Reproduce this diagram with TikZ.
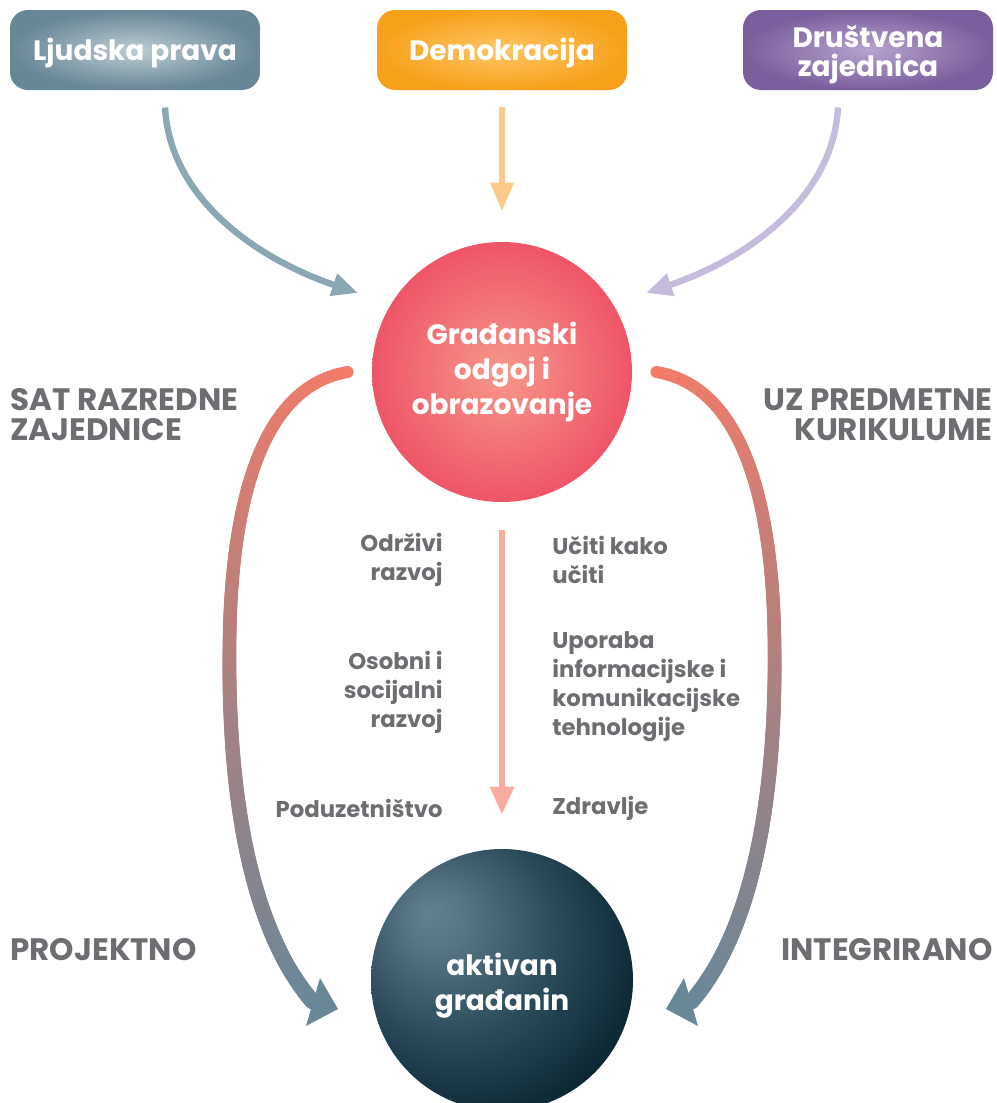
\documentclass[tikz,border=0pt]{standalone}
\usepackage{fontspec}
\setmainfont{Poppins}
\usetikzlibrary{arrows.meta,decorations.markings}

\definecolor{txtgrey}{HTML}{6D6E71}
\definecolor{lpin}{HTML}{BDCCD3}
\definecolor{lpout}{HTML}{678696}
\definecolor{dkin}{HTML}{FEC664}
\definecolor{dkout}{HTML}{F7A11B}
\definecolor{dzin}{HTML}{B7A3CE}
\definecolor{dzout}{HTML}{7A5E9D}
\definecolor{goin}{HTML}{F6988A}
\definecolor{goout}{HTML}{EF5568}
\definecolor{lparr}{HTML}{8CA7B4}
\definecolor{dkarr}{HTML}{FDC98A}
\definecolor{dzarr}{HTML}{C5BBDC}
\definecolor{midarr}{HTML}{F9AB9F}
\definecolor{arctop}{HTML}{F47B67}
\definecolor{arcbot}{HTML}{6A8798}
\definecolor{aghi}{HTML}{62808F}
\definecolor{agup}{HTML}{567483}
\definecolor{agmid}{HTML}{2A4A5A}
\definecolor{aglow}{HTML}{0E2A37}
\definecolor{agdark}{HTML}{00101A}

\pgfdeclareradialshading{agball}{\pgfpoint{-14bp}{13bp}}{%
  color(0bp)=(aghi); color(6bp)=(agup); color(20bp)=(agmid);
  color(32bp)=(aglow); color(45bp)=(agdark); color(60bp)=(agdark)}

% one dot of the shaded side arcs
\newcommand\arcdot{%
  \pgfmathsetmacro\arcpos{\pgfkeysvalueof{/pgf/decoration/mark info/distance from start}/\pgfdecoratedpathlength}%
  \pgfmathsetmacro\arcmix{100*\arcpos}%
  \pgfmathsetmacro\arcrad{3+\arcpos}%
  \colorlet{arcnow}{arcbot!\arcmix!arctop}%
  \fill[arcnow] (0,0) circle (\arcrad pt);}

\begin{document}
\begin{tikzpicture}
  [x=0.5pt,y=-0.5pt,
   box/.style={rounded corners=9pt,minimum width=125pt,minimum height=40pt,inner sep=0pt,
     text=white,align=center,text height=11pt,text depth=1pt,
     font=\bfseries\fontsize{14}{14.5}\selectfont},
   ball/.style={circle,minimum size=130pt,inner sep=0pt,text=white,align=center,
     font=\bfseries\fontsize{14}{17.5}\selectfont},
   caption/.style={text=txtgrey,inner sep=0pt,font=\bfseries\fontsize{15.5}{15}\selectfont},
   lab/.style={text=txtgrey,inner sep=0pt,font=\bfseries\fontsize{11.4}{14.5}\selectfont},
   thinarrow/.style={line width=3.2pt,-{Triangle[length=13pt,width=11pt]}},
   sidearc/.style={decorate,decoration={markings,
     mark=between positions 0 and 1 step 1pt with {\arcdot}}}]
  \useasboundingbox (0,0) rectangle (996,1103);

  \node[box,inner color=lpin,outer color=lpout] (lp) at (135,50) {Ljudska prava};
  \node[box,inner color=dkin,outer color=dkout] (dk) at (502,50) {Demokracija};
  \node[box,inner color=dzin,outer color=dzout,text height=26pt,text depth=0pt] (dz) at (868,50) {Društvena\\zajednica};

  \node[ball,inner color=goin,outer color=goout] (go) at (502,372) {Građanski\\odgoj i\\obrazovanje};
  \node[ball,shade,shading=agball,minimum size=131pt,text height=30pt,text depth=0pt] (ag) at (502,980) {aktivan\\građanin};

  \node[caption,anchor=west,align=left] (srz) at (10,415) {SAT RAZREDNE\\ZAJEDNICE};
  \node[caption,anchor=east,align=right] (upk) at (993,415) {UZ PREDMETNE\\KURIKULUME};
  \node[caption,anchor=west] (prj) at (10,950) {PROJEKTNO};
  \node[caption,anchor=east] (itg) at (993,950) {INTEGRIRANO};

  \node[lab,anchor=east,align=right] (odr) at (443,560) {Održivi\\razvoj};
  \node[lab,anchor=east,align=right] (osr) at (443,692) {Osobni i\\socijalni\\razvoj};
  \node[lab,anchor=east] (pod) at (443,808) {Poduzetništvo};
  \node[lab,anchor=west,align=left] (uck) at (552,560) {Učiti kako\\učiti};
  \node[lab,anchor=west,align=left] (upo) at (552,687) {Uporaba\\informacijske i\\komunikacijske\\tehnologije};
  \node[lab,anchor=west] (zdr) at (552,808) {Zdravlje};

  \draw[thinarrow,lparr] ([xshift=15pt,yshift=-8.5pt]lp.south)
    .. controls +(5,93) and +(-98,-33) .. ([xshift=-72pt,yshift=39.5pt]go.center);
  \draw[thinarrow,dkarr,-{Triangle[length=14.5pt,width=11pt]}] ([yshift=-8.5pt]dk.south) -- ([yshift=15pt]go.north);
  \draw[thinarrow,dzarr] ([xshift=-15pt,yshift=-8.5pt]dz.south)
    .. controls +(-5,93) and +(98,-33) .. ([xshift=72pt,yshift=39.5pt]go.center);

  \draw[thinarrow,midarr,-{Triangle[length=14pt,width=11.5pt]}] ([yshift=-14pt]go.south) -- ([yshift=17pt]ag.north);

  % shaded side arcs, heads drawn after
  \path[sidearc] ([xshift=-12pt]go.west) .. controls (270,385) and (235,480) .. (230,620)
    .. controls (225,790) and (250,930) .. ([xshift=-94.5pt,yshift=-11pt]ag.center);
  \path[sidearc] ([xshift=12pt]go.east) .. controls (734,385) and (769,480) .. (774,620)
    .. controls (779,790) and (754,930) .. ([xshift=94.5pt,yshift=-11pt]ag.center);
  \fill[arcbot] ([xshift=-82pt,yshift=-14.5pt]ag.center) -- ++(-18,-31) -- ++(-14,48) -- cycle;
  \fill[arcbot] ([xshift=82pt,yshift=-14.5pt]ag.center) -- ++(18,-31) -- ++(14,48) -- cycle;
\end{tikzpicture}
\end{document}
